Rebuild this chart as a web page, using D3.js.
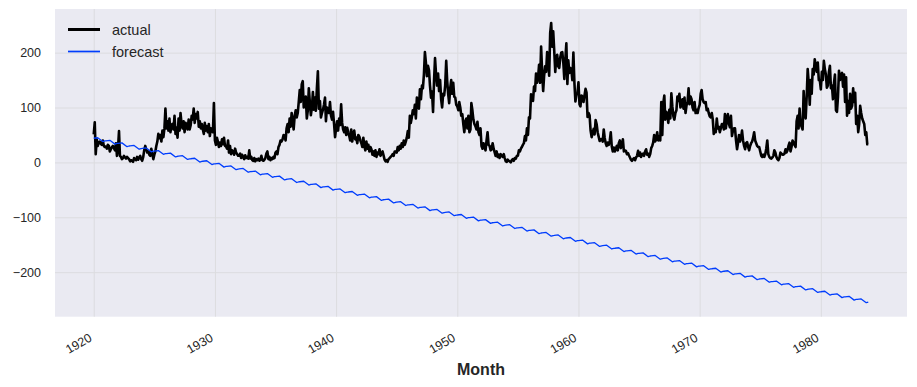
<!DOCTYPE html>
<html>
<head>
<meta charset="utf-8">
<script src="https://cdn.jsdelivr.net/npm/d3@7"></script>
<style>
    body { margin: 0; background: #ffffff; }
    svg text { font-family: "Liberation Sans", Arial, sans-serif; }
</style>
</head>
<body>
<div id="chart"></div>
<script>
// monthly values, one row per year, Jan..Dec
const startYear = 1920;
const actual = [
    51, 73, 15, 42, 30, 37, 38, 34, 32, 40, 30, 28,          // 1920
    29, 25, 32, 30, 20, 24, 28, 30, 26, 22, 35, 12,
    25, 57, 12, 10, 6, 8, 12, 9, 7, 10, 8, 6,
    2, 4, 3, 1, 8, 6, 4, 10, 5, 9, 12, 6,
    3, 10, 22, 30, 24, 18, 20, 14, 12, 25, 16, 6,
    14, 20, 30, 38, 52, 44, 50, 38, 58, 46, 62, 98,
    62, 75, 58, 80, 55, 68, 70, 60, 85, 52, 63, 45,
    80, 58, 90, 70, 62, 75, 55, 72, 68, 60, 78, 60,
    68, 85, 78, 98, 72, 88, 80, 92, 65, 75, 62, 70,
    60, 52, 72, 58, 66, 55, 70, 48, 62, 58, 55, 108,
    40, 32, 45, 38, 28, 36, 30, 42, 33, 45, 30, 29,          // 1930
    25, 40, 18, 30, 15, 22, 20, 14, 25, 18, 15, 12,
    12, 16, 8, 14, 10, 6, 13, 8, 10, 7, 22, 7,
    10, 4, 3, 8, 2, 6, 4, 7, 3, 5, 12, 4,
    3, 5, 8, 16, 20, 6, 10, 4, 8, 6, 10, 8,
    18, 20, 15, 28, 32, 40, 38, 42, 50, 48, 40, 62,
    70, 55, 80, 65, 90, 75, 60, 85, 95, 82, 90, 110,
    132, 110, 142, 148, 100, 115, 120, 80, 95, 135, 110, 86,
    100, 128, 96, 118, 94, 135, 166, 98, 112, 82, 90, 96,
    105, 118, 75, 100, 96, 90, 110, 85, 78, 92, 70, 46,
    62, 75, 58, 80, 68, 106, 72, 60, 55, 64, 50, 63,         // 1940
    55, 48, 40, 60, 38, 52, 58, 42, 45, 35, 50, 47,
    40, 35, 28, 45, 30, 22, 38, 25, 32, 20, 28, 24,
    14, 20, 12, 22, 10, 18, 15, 24, 12, 16, 20, 13,
    5, 2, 4, 1, 6, 8, 10, 12, 15, 12, 20, 20,
    18, 28, 22, 30, 25, 35, 28, 40, 32, 38, 45, 57,
    45, 85, 72, 82, 95, 88, 105, 80, 118, 110, 98, 133,
    115, 140, 135, 160, 201, 181, 157, 176, 168, 140, 118, 129,
    92, 150, 190, 160, 140, 162, 130, 150, 115, 100, 125, 122,
    140, 185, 150, 125, 108, 135, 150, 125, 145, 120, 118, 105,
    102, 95, 110, 100, 85, 88, 70, 55, 75, 80, 62, 85,       // 1950
    55, 60, 108, 95, 78, 70, 66, 60, 74, 55, 50, 62,
    30, 25, 35, 28, 22, 40, 55, 32, 30, 22, 24, 35,
    25, 18, 12, 20, 10, 14, 8, 15, 12, 10, 15, 8,
    2, 1, 5, 3, 2, 0, 4, 6, 3, 8, 7, 12,
    12, 22, 20, 25, 28, 32, 35, 48, 40, 62, 50, 82,
    80, 124, 120, 112, 138, 130, 162, 145, 155, 178, 145, 211,
    165, 130, 157, 175, 165, 201, 187, 158, 236, 254, 211, 239,
    203, 165, 191, 196, 175, 172, 191, 200, 201, 182, 152, 188,
    217, 143, 186, 163, 172, 169, 150, 200, 145, 111, 124, 125,
    146, 106, 102, 122, 120, 110, 122, 134, 127, 83, 90, 86, // 1960
    58, 46, 53, 61, 51, 77, 70, 55, 47, 39, 42, 43,
    38, 60, 45, 35, 30, 36, 32, 39, 55, 29, 20, 27,
    20, 25, 30, 22, 35, 40, 26, 32, 42, 20, 22, 21,
    15, 17, 13, 9, 5, 3, 6, 8, 4, 9, 12, 21,
    12, 18, 10, 14, 16, 12, 20, 24, 14, 16, 10, 15,
    26, 30, 36, 50, 38, 42, 55, 40, 48, 40, 110, 50,
    108, 122, 78, 92, 88, 72, 96, 80, 126, 102, 84, 78,
    90, 95, 120, 112, 125, 100, 104, 115, 98, 118, 90, 104,
    110, 135, 106, 120, 115, 100, 95, 110, 90, 96, 90, 99,
    105, 125, 132, 115, 110, 108, 110, 95, 98, 90, 84, 82,   // 1970
    90, 78, 52, 60, 55, 80, 62, 65, 55, 62, 70, 70,
    60, 88, 62, 80, 88, 70, 64, 85, 48, 58, 62, 62,
    40, 24, 35, 50, 38, 45, 58, 40, 30, 24, 35, 37,
    28, 22, 30, 35, 38, 45, 55, 40, 35, 30, 28, 28,
    20, 12, 10, 14, 10, 15, 25, 40, 15, 10, 8, 7,
    9, 12, 22, 18, 10, 6, 4, 8, 18, 16, 14, 14,
    16, 24, 18, 22, 30, 36, 20, 28, 40, 36, 32, 28,
    75, 85, 62, 98, 70, 65, 60, 130, 95, 80, 120, 170,
    145, 105, 150, 125, 170, 160, 188, 175, 165, 182, 150, 150,
    133, 165, 150, 185, 170, 160, 136, 140, 165, 176, 135, 140, // 1980
    115, 145, 160, 95, 92, 120, 167, 150, 160, 163, 138, 160,
    110, 155, 85, 112, 90, 125, 98, 103, 135, 110, 127, 70,
    85, 55, 70, 103, 90, 80, 75, 70, 50, 55, 33, 33
];

// forecast read at Jan, May, Oct, Dec of every year
const forecastMonths = [0, 4, 9, 11];
const forecast = [
    [44.0, 44.9, 38.0, 39.2], [39.3, 40.2, 33.3, 34.5], [34.7, 35.6, 28.7, 29.9], [30.0, 30.9, 24.0, 25.2],
    [25.4, 26.3, 19.4, 20.6], [20.7, 21.6, 14.7, 15.9], [16.0, 16.9, 10.0, 11.2], [11.4, 12.3, 5.4, 6.6],
    [6.7, 7.6, 0.7, 1.9], [2.1, 3.0, -3.9, -2.7],
    [-2.6, -1.7, -8.6, -7.4], [-7.3, -6.4, -13.3, -12.1], [-11.9, -11.0, -17.9, -16.7], [-16.6, -15.7, -22.6, -21.4],
    [-21.2, -20.3, -27.2, -26.0], [-25.9, -25.0, -31.9, -30.7], [-30.6, -29.7, -36.6, -35.4], [-35.2, -34.3, -41.2, -40.0],
    [-39.9, -39.0, -45.9, -44.7], [-44.5, -43.6, -50.5, -49.3],
    [-49.2, -48.3, -55.2, -54.0], [-53.9, -53.0, -59.9, -58.7], [-58.5, -57.6, -64.5, -63.3], [-63.2, -62.3, -69.2, -68.0],
    [-67.8, -66.9, -73.8, -72.6], [-72.5, -71.6, -78.5, -77.3], [-77.2, -76.3, -83.2, -82.0], [-81.8, -80.9, -87.8, -86.6],
    [-86.5, -85.6, -92.5, -91.3], [-91.1, -90.2, -97.1, -95.9],
    [-95.8, -94.9, -101.8, -100.6], [-100.5, -99.6, -106.5, -105.3], [-105.1, -104.2, -111.1, -109.9], [-109.8, -108.9, -115.8, -114.6],
    [-114.4, -113.5, -120.4, -119.2], [-119.1, -118.2, -125.1, -123.9], [-123.8, -122.9, -129.8, -128.6], [-128.4, -127.5, -134.4, -133.2],
    [-133.1, -132.2, -139.1, -137.9], [-137.7, -136.8, -143.7, -142.5],
    [-142.4, -141.5, -148.4, -147.2], [-147.1, -146.2, -153.1, -151.9], [-151.7, -150.8, -157.7, -156.5], [-156.4, -155.5, -162.4, -161.2],
    [-161.0, -160.1, -167.0, -165.8], [-165.7, -164.8, -171.7, -170.5], [-170.4, -169.5, -176.4, -175.2], [-175.0, -174.1, -181.0, -179.8],
    [-179.7, -178.8, -185.7, -184.5], [-184.3, -183.4, -190.3, -189.1],
    [-189.0, -188.1, -195.0, -193.8], [-193.7, -192.8, -199.7, -198.5], [-198.3, -197.4, -204.3, -203.1], [-203.0, -202.1, -209.0, -207.8],
    [-207.6, -206.7, -213.6, -212.4], [-212.3, -211.4, -218.3, -217.1], [-217.0, -216.1, -223.0, -221.8], [-221.6, -220.7, -227.6, -226.4],
    [-226.3, -225.4, -232.3, -231.1], [-230.9, -230.0, -236.9, -235.7],
    [-235.6, -234.7, -241.6, -240.4], [-240.3, -239.4, -246.3, -245.1], [-244.9, -244.0, -250.9, -249.7], [-249.6, -248.7, -255.6, -254.4]
];

const xTickYears = [1920, 1930, 1940, 1950, 1960, 1970, 1980];
const yTicks = [-200, -100, 0, 100, 200];
const seriesNames = ['actual', 'forecast'];
const seriesColors = ['#000000', '#003dfd'];
const seriesWidths = [2.6, 1.3];

const width = 917;
const height = 387;
const plot = { left: 55, right: 907, top: 9, bottom: 316.7 };
const textColor = '#262626';

function monthDate(year, month) {
    return new Date(Date.UTC(year, month, 1));
}

function buildChart() {
    const actualPoints = actual.map((v, i) => ({
        date: monthDate(startYear + Math.floor(i / 12), i % 12),
        value: v
    }));
    const forecastPoints = [];
    forecast.forEach((row, yi) => {
        row.forEach((v, k) => {
            forecastPoints.push({ date: monthDate(startYear + yi, forecastMonths[k]), value: v });
        });
    });

    // matplotlib style 5% margins
    const xFirst = actualPoints[0].date.getTime();
    const xLast = actualPoints[actualPoints.length - 1].date.getTime();
    const xPad = (xLast - xFirst) * 0.05;
    const xScale = d3.scaleUtc()
        .domain([new Date(xFirst - xPad), new Date(xLast + xPad)])
        .range([plot.left, plot.right]);

    const allValues = actual.concat(forecastPoints.map(d => d.value));
    const yMin = d3.min(allValues);
    const yMax = d3.max(allValues);
    const yPad = (yMax - yMin) * 0.05;
    const yScale = d3.scaleLinear()
        .domain([yMin - yPad, yMax + yPad])
        .range([plot.bottom, plot.top]);

    const svg = d3.select('#chart').append('svg')
        .attr('width', width)
        .attr('height', height);

    svg.append('rect')
        .attr('x', plot.left)
        .attr('y', plot.top)
        .attr('width', plot.right - plot.left)
        .attr('height', plot.bottom - plot.top)
        .attr('fill', '#eaeaf2');

    const xTickDates = xTickYears.map(y => monthDate(y, 0));

    // grid
    const xGrid = svg.append('g')
        .attr('transform', `translate(0, ${plot.bottom})`)
        .call(d3.axisBottom(xScale).tickValues(xTickDates).tickSize(-(plot.bottom - plot.top)).tickFormat(''));
    const yGrid = svg.append('g')
        .attr('transform', `translate(${plot.left}, 0)`)
        .call(d3.axisLeft(yScale).tickValues(yTicks).tickSize(-(plot.right - plot.left)).tickFormat(''));
    [xGrid, yGrid].forEach(g => {
        g.select('.domain').remove();
        g.selectAll('line').attr('stroke', '#dcdcdf').attr('stroke-width', 1);
    });

    // tick labels
    svg.append('g').selectAll('text')
        .data(yTicks)
        .enter()
        .append('text')
        .attr('x', plot.left - 14)
        .attr('y', d => yScale(d))
        .attr('dy', '0.35em')
        .attr('text-anchor', 'end')
        .attr('font-size', 12.5)
        .attr('fill', textColor)
        .text(d => d < 0 ? '\u2212' + Math.abs(d) : d);

    svg.append('g').selectAll('text')
        .data(xTickDates)
        .enter()
        .append('text')
        .attr('transform', d => `translate(${xScale(d) - 1}, ${plot.bottom + 23.5}) rotate(-30)`)
        .attr('text-anchor', 'end')
        .attr('font-size', 12.5)
        .attr('fill', textColor)
        .text(d => d.getUTCFullYear());

    svg.append('text')
        .attr('x', (plot.left + plot.right) / 2)
        .attr('y', 375)
        .attr('text-anchor', 'middle')
        .attr('font-size', 16)
        .attr('font-weight', 'bold')
        .attr('fill', textColor)
        .text('Month');

    // lines
    const line = d3.line()
        .x(d => xScale(d.date))
        .y(d => yScale(d.value));

    [actualPoints, forecastPoints].forEach((pts, i) => {
        svg.append('path')
            .datum(pts)
            .attr('d', line)
            .attr('fill', 'none')
            .attr('stroke', seriesColors[i])
            .attr('stroke-width', seriesWidths[i])
            .attr('stroke-linejoin', 'round');
    });

    // legend
    const legend = svg.append('g');
    seriesNames.forEach((name, i) => {
        const ly = 29.5 + i * 22;
        legend.append('line')
            .attr('x1', 68).attr('x2', 100)
            .attr('y1', ly).attr('y2', ly)
            .attr('stroke', seriesColors[i])
            .attr('stroke-width', seriesWidths[i] + 0.4);
        legend.append('text')
            .attr('x', 112)
            .attr('y', ly)
            .attr('dy', '0.35em')
            .attr('font-size', 14.5)
            .attr('fill', textColor)
            .text(name);
    });
}

document.addEventListener('DOMContentLoaded', () => buildChart());
</script>
</body>
</html>
